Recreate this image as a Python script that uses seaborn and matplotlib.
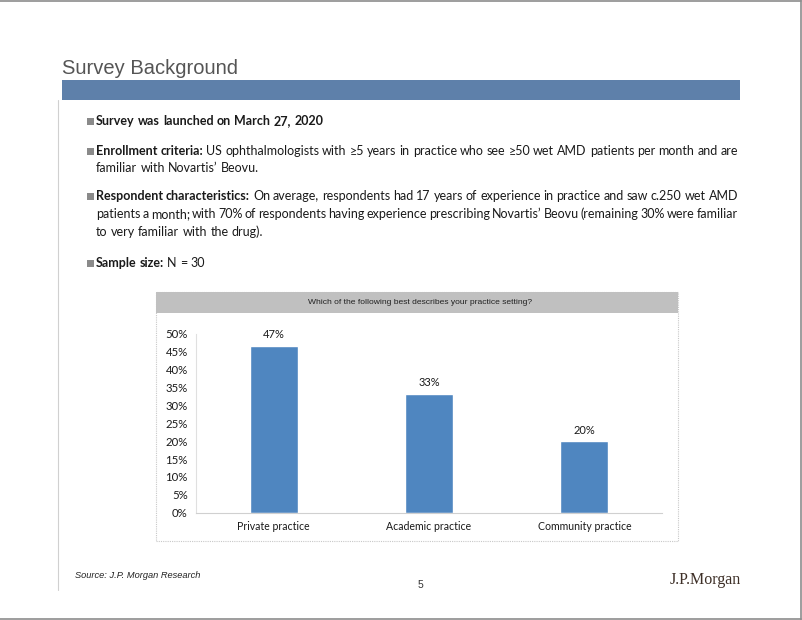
import matplotlib
matplotlib.use("Agg")
import matplotlib.pyplot as plt
import seaborn as sns
import pandas as pd
from matplotlib.ticker import FuncFormatter

# data
categories = ["Private practice", "Academic practice", "Community practice"]
shares = [0.4667, 0.3333, 0.20]
value_labels = ["47%", "33%", "20%"]
y_ticks = [0, 0.05, 0.10, 0.15, 0.20, 0.25, 0.30, 0.35, 0.40, 0.45, 0.50]

title = "Survey Background"
question = "Which of the following best describes your practice setting?"
source = "Source: J.P. Morgan Research"

# bullet lines: list of lines, each line a list of (text, bold), plus justify flag
bullets = [
    [([("Survey was launched on March 27, 2020", True)], False)],
    [([("Enrollment criteria:", True), ("US ophthalmologists with ≥5 years in practice who see ≥50 wet AMD patients per month and are", False)], True),
     ([("familiar with Novartis’ Beovu.", False)], False)],
    [([("Respondent characteristics:", True), ("On average, respondents had 17 years of experience in practice and saw c.250 wet AMD", False)], True),
     ([("patients a month; with 70% of respondents having experience prescribing Novartis’ Beovu (remaining 30% were familiar", False)], True),
     ([("to very familiar with the drug).", False)], False)],
    [([("Sample size:", True), ("N = 30", False)], False)],
]
line_y = [[121], [151, 168], [196, 214, 232], [263]]

W, H = 802, 620
sns.set_theme(style="white")
plt.rcParams["font.family"] = ["Lato", "DejaVu Sans"]

fig = plt.figure(figsize=(W / 100, H / 100), dpi=100)
fig.patch.set_facecolor("white")


def fx(x):
    return x / W


def fy(y):
    return 1 - y / H


renderer = fig.canvas.get_renderer()


def text_width(s, **kw):
    t = fig.text(0, 0, s, **kw)
    w = t.get_window_extent(renderer).width
    t.remove()
    return w


body = dict(fontsize=9.0, color="#1a1a1a", va="center", ha="left")


def put_line(tokens, x0, y, x1=None):
    words = []
    for txt, bold in tokens:
        for w in txt.split(" "):
            words.append((w, "bold" if bold else "normal"))
    widths = [text_width(w, fontweight=b, **body) for w, b in words]
    space = text_width("a a", **body) - text_width("aa", **body)
    if x1 is not None and len(words) > 1:
        space = (x1 - x0 - sum(widths)) / (len(words) - 1)
    x = x0
    for (w, b), wd in zip(words, widths):
        fig.text(fx(x), fy(y), w, fontweight=b, **body)
        x += wd + space


# page frame
fig.add_artist(plt.Line2D([fx(0), fx(801)], [fy(1), fy(1)], color="#8c8c8c", lw=1.2))
fig.add_artist(plt.Line2D([fx(800.5), fx(800.5)], [fy(0), fy(620)], color="#8c8c8c", lw=1.2))
fig.add_artist(plt.Line2D([fx(0), fx(801)], [fy(618.5), fy(618.5)], color="#8c8c8c", lw=1.2))
fig.add_artist(plt.Line2D([fx(58.5), fx(58.5)], [fy(100), fy(590)], color="#d0d0d0", lw=0.8))

# title and band
fig.text(fx(62), fy(68), title, fontsize=14.5, color="#555555", va="center", ha="left",
         family=["Liberation Sans", "DejaVu Sans"])
fig.add_artist(plt.Rectangle((fx(62), fy(100)), fx(740) - fx(62), fy(80) - fy(100),
                             facecolor="#5e80aa", edgecolor="none"))

# bullets
for para, ys in zip(bullets, line_y):
    fig.add_artist(plt.Rectangle((fx(87), fy(ys[0] + 3.5)), 7 / W, 7 / H,
                                 facecolor="#8a8a8a", edgecolor="none"))
    for (tokens, just), y in zip(para, ys):
        put_line(tokens, 96, y, 738 if just else None)

# chart box
fig.add_artist(plt.Rectangle((fx(156), fy(541)), fx(678) - fx(156), fy(292) - fy(541),
                             facecolor="none", edgecolor="#c8c8c8", lw=0.8, ls=(0, (1, 1))))
fig.add_artist(plt.Rectangle((fx(156), fy(313)), fx(678) - fx(156), fy(292) - fy(313),
                             facecolor="#c0c0c0", edgecolor="none"))
fig.text(fx(420), fy(302.5), question, fontsize=6.1, color="#222222", va="center", ha="center",
         family=["Liberation Sans", "DejaVu Sans"])

# bar chart
ax = fig.add_axes([fx(196), fy(512.7), fx(662) - fx(196), fy(334) - fy(512.7)])
df = pd.DataFrame({"setting": categories, "share": shares})
sns.barplot(data=df, x="setting", y="share", color="#4f86c0", saturation=1, width=0.31, ax=ax)
ax.set_xlim(-0.5, 2.5)
ax.set_ylim(0, 0.5)
ax.set_yticks(y_ticks)
ax.yaxis.set_major_formatter(FuncFormatter(lambda v, p: f"{v * 100:.0f}%"))
ax.set_xlabel("")
ax.set_ylabel("")
ax.tick_params(axis="both", length=0, colors="#1a1a1a")
ax.tick_params(axis="y", pad=6, labelsize=8.2)
ax.tick_params(axis="x", pad=6, labelsize=7.6)
for s in ["top", "right"]:
    ax.spines[s].set_visible(False)
ax.spines["left"].set_color("#e0e0e0")
ax.spines["bottom"].set_color("#d0d0d0")
ax.spines["left"].set_linewidth(0.8)
ax.spines["bottom"].set_linewidth(0.8)
ax.set_facecolor("none")
for i, (v, lab) in enumerate(zip(shares, value_labels)):
    ax.annotate(lab, (i, v), xytext=(0, 11), textcoords="offset pixels",
                ha="center", va="center", fontsize=8, color="#1a1a1a")

# footer
fig.text(fx(75), fy(575), source, fontsize=6.7, style="italic", color="#222222", va="center",
         ha="left", family=["Liberation Sans", "DejaVu Sans"])
fig.text(fx(420), fy(585), "5", fontsize=7.5, color="#333333", va="center", ha="center",
         family=["Liberation Sans", "DejaVu Sans"])
fig.text(fx(670), fy(580), "J.P.Morgan", fontsize=11.5, color="#3d2f27", va="center", ha="left",
         family=["Liberation Serif", "DejaVu Serif"])

fig.savefig("out.png", dpi=100, facecolor="white")
